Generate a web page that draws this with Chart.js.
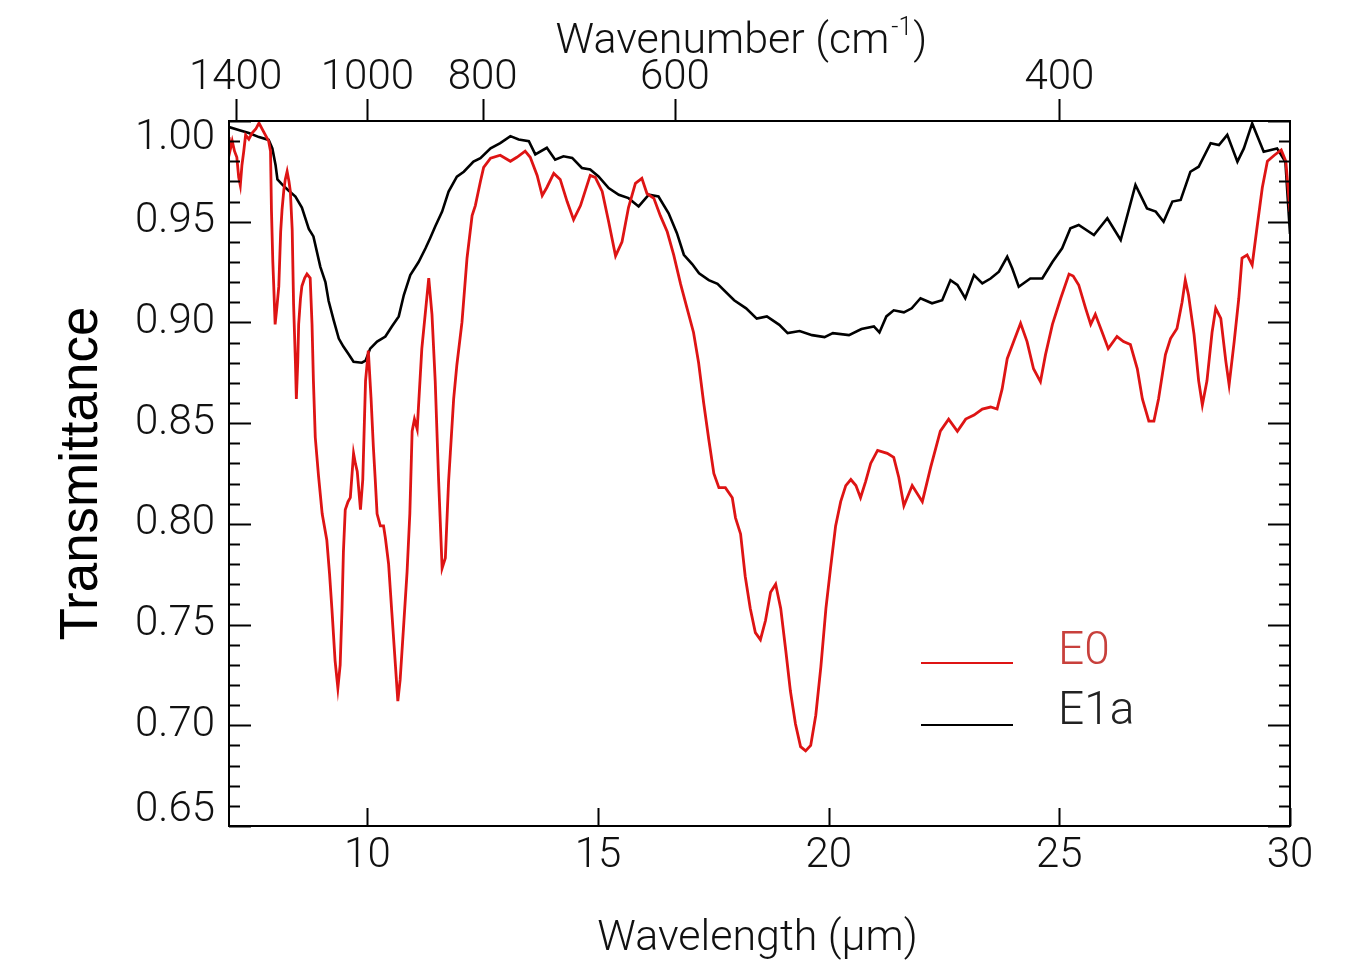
<!DOCTYPE html>
<html>
<head>
<meta charset="utf-8">
<script src="https://cdn.jsdelivr.net/npm/chart.js@4.4.0/dist/chart.umd.min.js"></script>
<style>
  html, body { margin: 0; padding: 0; background: #fff; }
  canvas { display: block; }
</style>
</head>
<body>
<canvas id="c" width="1358" height="966"></canvas>
<script>
// ---- Data ----
const wavelengthE0 = [
  7.00, 7.03, 7.07, 7.12, 7.17, 7.21, 7.245, 7.28, 7.32, 7.36, 7.43, 7.50, 7.58, 7.65, 7.72, 7.79, 7.86, 7.90,
  7.92, 7.95, 7.97, 8.00, 8.04, 8.08, 8.12, 8.15, 8.19, 8.22, 8.26, 8.30, 8.33, 8.37, 8.40, 8.44, 8.46, 8.49,
  8.51, 8.55, 8.58, 8.64, 8.69, 8.76, 8.80, 8.83, 8.87, 8.94, 9.02, 9.12, 9.18, 9.23, 9.30, 9.36, 9.41, 9.45,
  9.48, 9.52, 9.58, 9.63, 9.70, 9.74, 9.78, 9.85, 9.90, 9.96, 10.02, 10.08, 10.13, 10.17, 10.21, 10.28, 10.35,
  10.39, 10.46, 10.53, 10.61, 10.66, 10.71, 10.79, 10.86, 10.92, 10.97, 11.02, 11.08, 11.18, 11.33, 11.40, 11.47,
  11.545, 11.62, 11.69, 11.76, 11.87, 11.94, 12.05, 12.16, 12.27, 12.34, 12.45, 12.52, 12.67, 12.88, 13.10, 13.24,
  13.42, 13.53, 13.68, 13.79, 13.89, 14.04, 14.18, 14.33, 14.47, 14.62, 14.83, 14.94, 15.09, 15.23, 15.38, 15.52,
  15.66, 15.81, 15.95, 16.06, 16.21, 16.35, 16.50, 16.64, 16.79, 16.93, 17.07, 17.18, 17.29, 17.40, 17.51, 17.62,
  17.76, 17.91, 17.98, 18.09, 18.19, 18.30, 18.41, 18.52, 18.63, 18.74, 18.85, 18.96, 19.07, 19.17, 19.28, 19.39,
  19.50, 19.61, 19.72, 19.83, 19.94, 20.04, 20.15, 20.26, 20.37, 20.48, 20.59, 20.69, 20.80, 20.91, 21.06, 21.27,
  21.41, 21.52, 21.63, 21.81, 22.03, 22.21, 22.42, 22.60, 22.79, 22.97, 23.15, 23.33, 23.51, 23.65, 23.76, 23.87,
  24.01, 24.16, 24.30, 24.44, 24.59, 24.70, 24.85, 25.03, 25.21, 25.30, 25.42, 25.57, 25.68, 25.78, 25.93, 26.06,
  26.25, 26.39, 26.54, 26.69, 26.80, 26.94, 27.05, 27.15, 27.30, 27.41, 27.55, 27.66, 27.73, 27.80, 27.92, 28.02,
  28.10, 28.20, 28.31, 28.39, 28.50, 28.61, 28.68, 28.79, 28.89, 28.96, 29.07, 29.18, 29.29, 29.40, 29.51, 29.66,
  29.81, 29.91, 30.00
];
const transE0 = [
  0.992, 0.986, 0.990, 0.985, 0.982, 0.972, 0.968, 0.978, 0.985, 0.993, 0.991, 0.994, 0.996, 0.999, 0.996, 0.993, 0.990, 0.985,
  0.956, 0.930, 0.918, 0.899, 0.908, 0.918, 0.945, 0.956, 0.966, 0.971, 0.975, 0.970, 0.965, 0.946, 0.909, 0.880, 0.862, 0.880,
  0.899, 0.912, 0.918, 0.922, 0.924, 0.922, 0.899, 0.871, 0.843, 0.824, 0.805, 0.792, 0.775, 0.758, 0.732, 0.7185, 0.730, 0.758,
  0.786, 0.807, 0.811, 0.813, 0.835, 0.830, 0.826, 0.807, 0.822, 0.871, 0.886, 0.862, 0.838, 0.822, 0.805, 0.799, 0.799,
  0.793, 0.780, 0.756, 0.729, 0.712, 0.7225, 0.751, 0.776, 0.805, 0.846, 0.852, 0.847, 0.887, 0.922, 0.904, 0.871,
  0.821, 0.778, 0.783, 0.821, 0.862, 0.879, 0.900, 0.932, 0.953, 0.958, 0.970, 0.977, 0.9815, 0.983, 0.980, 0.982,
  0.985, 0.982, 0.973, 0.963, 0.967, 0.974, 0.971, 0.960, 0.951, 0.958, 0.973, 0.972, 0.965, 0.950, 0.933, 0.940,
  0.957, 0.969, 0.9715, 0.964, 0.9616, 0.953, 0.945, 0.9335, 0.919, 0.907, 0.895, 0.880, 0.860, 0.842, 0.825, 0.818,
  0.818, 0.813, 0.803, 0.795, 0.774, 0.758, 0.746, 0.7425, 0.752, 0.766, 0.770, 0.758, 0.737, 0.717, 0.7006, 0.6894,
  0.6873, 0.690, 0.705, 0.729, 0.758, 0.778, 0.799, 0.811, 0.819, 0.822, 0.819, 0.813, 0.821, 0.830, 0.8365, 0.835,
  0.833, 0.823, 0.809, 0.819, 0.811, 0.828, 0.846, 0.852, 0.846, 0.852, 0.854, 0.857, 0.858, 0.857, 0.867, 0.882,
  0.8905, 0.8996, 0.8905, 0.877, 0.8706, 0.884, 0.899, 0.912, 0.924, 0.923, 0.9186, 0.907, 0.899, 0.904, 0.895, 0.887,
  0.893, 0.8905, 0.889, 0.877, 0.862, 0.851, 0.851, 0.862, 0.884, 0.892, 0.897, 0.910, 0.921, 0.9136, 0.894, 0.871,
  0.859, 0.871, 0.895, 0.907, 0.902, 0.8805, 0.869, 0.8905, 0.912, 0.932, 0.9335, 0.9285, 0.948, 0.967, 0.980, 0.983,
  0.9856, 0.980, 0.955
];

const wavelengthE1a = [
  7.00, 7.21, 7.43, 7.65, 7.86, 7.94, 8.01, 8.05, 8.15, 8.29, 8.44, 8.58, 8.73, 8.83, 8.98, 9.09, 9.16, 9.27,
  9.38, 9.48, 9.59, 9.70, 9.88, 9.96, 10.06, 10.21, 10.39, 10.53, 10.68, 10.79, 10.93, 11.11, 11.26, 11.36, 11.47,
  11.62, 11.76, 11.94, 12.09, 12.30, 12.45, 12.67, 12.88, 13.10, 13.28, 13.50, 13.64, 13.89, 14.07, 14.25, 14.44,
  14.65, 14.83, 15.01, 15.23, 15.45, 15.66, 15.88, 16.10, 16.31, 16.53, 16.71, 16.86, 17.04, 17.19, 17.40, 17.59,
  17.95, 18.21, 18.44, 18.66, 18.93, 19.11, 19.37, 19.64, 19.91, 20.09, 20.44, 20.71, 20.98, 21.10, 21.25, 21.41,
  21.63, 21.80, 21.99, 22.24, 22.46, 22.64, 22.79, 22.96, 23.15, 23.33, 23.51, 23.69, 23.87, 23.98, 24.12, 24.37,
  24.63, 24.85, 25.06, 25.24, 25.42, 25.75, 26.04, 26.33, 26.65, 26.90, 27.09, 27.26, 27.45, 27.63, 27.84, 28.02,
  28.28, 28.46, 28.64, 28.86, 29.00, 29.18, 29.43, 29.72, 29.90, 30.00
];
const transE1a = [
  0.997, 0.9955, 0.994, 0.992, 0.9906, 0.9864, 0.978, 0.971, 0.9685, 0.9655, 0.9625, 0.957, 0.9464, 0.9427, 0.9276, 0.920, 0.9106, 0.901,
  0.892, 0.888, 0.8843, 0.8805, 0.880, 0.881, 0.887, 0.8905, 0.893, 0.898, 0.903, 0.9136, 0.9235, 0.930, 0.9368, 0.9418, 0.9476,
  0.955, 0.965, 0.9724, 0.9748, 0.9798, 0.9815, 0.9864, 0.989, 0.9925, 0.9908, 0.990, 0.9834, 0.9867, 0.9808, 0.9825, 0.9817,
  0.9767, 0.9759, 0.9725, 0.9667, 0.9634, 0.9617, 0.9576, 0.9634, 0.9625, 0.9542, 0.9443, 0.9336, 0.929, 0.9244, 0.921, 0.9192,
  0.911, 0.907, 0.9019, 0.903, 0.8988, 0.8947, 0.8957, 0.8937, 0.8927, 0.8947, 0.8937, 0.8967, 0.898, 0.895, 0.903, 0.906,
  0.905, 0.907, 0.912, 0.9095, 0.911, 0.921, 0.9186, 0.912, 0.9235, 0.9194, 0.9218, 0.9252, 0.9326, 0.9268, 0.9177, 0.9218,
  0.9218, 0.930, 0.9368, 0.9467, 0.9484, 0.9434, 0.9517, 0.9409, 0.9683, 0.9566, 0.955, 0.950, 0.960, 0.9608, 0.9748, 0.9773,
  0.989, 0.9881, 0.9931, 0.9798, 0.9864, 0.9988, 0.9847, 0.9864, 0.9798, 0.944
];

const seriesLabels = ['E0', 'E1a'];
const xTicks = [10, 15, 20, 25, 30];
const yMajorTicks = [0.65, 0.70, 0.75, 0.80, 0.85, 0.90, 0.95, 1.00];
const wavenumberTicks = [1400, 1000, 800, 600, 400];
const xRange = [7, 30];
const yRange = [0.65, 1.00];

const toPoints = (xs, ys) => xs.map((x, i) => ({ x: x, y: ys[i] }));

const TICK_FONT = '300 42px Roboto, "Liberation Sans", sans-serif';
const TITLE_FONT = '300 43px Roboto, "Liberation Sans", sans-serif';
const SUP_FONT = '300 25px Roboto, "Liberation Sans", sans-serif';

const decor = {
  id: 'decor',
  afterDraw(chart) {
    const { ctx, chartArea: a } = chart;
    const xs = chart.scales.x, ys = chart.scales.y;
    ctx.save();
    ctx.strokeStyle = '#000';
    ctx.fillStyle = '#111';
    ctx.lineWidth = 2;
    const line = (x1, y1, x2, y2) => { ctx.beginPath(); ctx.moveTo(x1, y1); ctx.lineTo(x2, y2); ctx.stroke(); };

    // frame
    ctx.strokeRect(a.left, a.top, a.right - a.left, a.bottom - a.top);

    // y ticks (major + minor), left and right, pointing inward
    const nMinor = Math.round((yRange[1] - yRange[0]) / 0.01);
    for (let i = 0; i <= nMinor; i++) {
      const v = yRange[0] + i * 0.01;
      const py = Math.round(ys.getPixelForValue(v)) + 0.5;
      const major = i % 5 === 0;
      const len = major ? 22 : 11;
      line(a.left, py, a.left + len, py);
      line(a.right, py, a.right - len, py);
    }
    // bottom ticks pointing inward
    xTicks.forEach(t => {
      const px = Math.round(xs.getPixelForValue(t)) + 0.5;
      line(px, a.bottom, px, a.bottom - 18);
    });
    // top ticks (wavenumber) pointing outward
    wavenumberTicks.forEach(wn => {
      const px = Math.round(xs.getPixelForValue(10000 / wn)) + 0.5;
      line(px, a.top, px, a.top - 22);
    });

    // tick labels
    ctx.font = TICK_FONT;
    ctx.textBaseline = 'middle';
    ctx.textAlign = 'right';
    yMajorTicks.forEach(v => {
      let py = ys.getPixelForValue(v);
      py = Math.min(Math.max(py, a.top + 17), a.bottom - 16);
      ctx.fillText(v.toFixed(2), a.left - 14, py);
    });
    ctx.textAlign = 'center';
    xTicks.forEach(t => {
      ctx.fillText(String(t), xs.getPixelForValue(t), a.bottom + 30);
    });
    wavenumberTicks.forEach(wn => {
      ctx.fillText(String(wn), xs.getPixelForValue(10000 / wn), a.top - 43);
    });

    // axis titles
    ctx.font = TITLE_FONT;
    ctx.textBaseline = 'alphabetic';
    ctx.textAlign = 'center';
    ctx.fillText('Wavelength (\u00b5m)', (a.left + a.right) / 2 - 2, 950);

    // top title with superscript
    const t1 = 'Wavenumber (cm', sup = '-1', t2 = ')';
    ctx.font = TITLE_FONT;
    const w1 = ctx.measureText(t1).width, w3 = ctx.measureText(t2).width;
    ctx.font = SUP_FONT;
    const w2 = ctx.measureText(sup).width;
    const total = w1 + w2 + w3 + 3;
    const sx = (a.left + a.right) / 2 - 18 - total / 2;
    ctx.textAlign = 'left';
    ctx.font = TITLE_FONT;
    ctx.fillText(t1, sx, 53);
    ctx.font = SUP_FONT;
    ctx.fillText(sup, sx + w1 + 2, 35);
    ctx.font = TITLE_FONT;
    ctx.fillText(t2, sx + w1 + w2 + 3, 53);

    // y title
    ctx.save();
    ctx.translate(97, (a.top + a.bottom) / 2);
    ctx.rotate(-Math.PI / 2);
    ctx.font = '53px "Liberation Sans", Arial, sans-serif';
    ctx.fillStyle = '#000';
    ctx.textAlign = 'center';
    ctx.fillText('Transmittance', 0, 0);
    ctx.restore();

    // legend
    const legendRows = [{ lineY: 663, textY: 652 }, { lineY: 725, textY: 712 }];
    const textColors = ['#c8403c', '#222'];
    chart.data.datasets.forEach((ds, i) => {
      const r = legendRows[i];
      ctx.strokeStyle = ds.borderColor;
      ctx.lineWidth = 2;
      line(921, r.lineY, 1013, r.lineY);
      ctx.fillStyle = textColors[i];
      ctx.font = '300 46px Roboto, "Liberation Sans", sans-serif';
      ctx.textAlign = 'left';
      ctx.textBaseline = 'middle';
      ctx.fillText(ds.label, 1058, r.textY);
    });
    ctx.restore();
  }
};

new Chart(document.getElementById('c'), {
  type: 'line',
  data: {
    datasets: [
      { label: seriesLabels[0], data: toPoints(wavelengthE0, transE0), borderColor: 'rgb(222,20,20)', borderWidth: 2.8, pointRadius: 0, tension: 0, fill: false },
      { label: seriesLabels[1], data: toPoints(wavelengthE1a, transE1a), borderColor: '#000000', borderWidth: 2.6, pointRadius: 0, tension: 0, fill: false }
    ]
  },
  options: {
    responsive: false,
    animation: false,
    events: [],
    layout: { padding: { left: 229, right: 68, top: 121, bottom: 140 } },
    scales: {
      x: { type: 'linear', min: xRange[0], max: xRange[1], display: false },
      y: { type: 'linear', min: yRange[0], max: yRange[1], display: false }
    },
    plugins: { legend: { display: false }, tooltip: { enabled: false } }
  },
  plugins: [decor]
});
</script>
</body>
</html>
